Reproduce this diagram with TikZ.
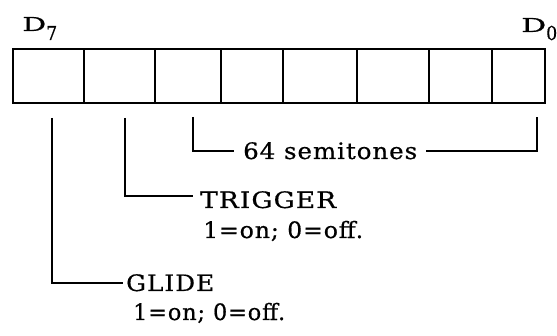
\documentclass[tikz,border=0pt]{standalone}
\usepackage{fontspec}
\usepackage{graphicx}
\newfontfamily\labelfont{DejaVu Serif}[LetterSpace=4, FakeBold=0.6]
% label text set to a given width and capital height
\newcommand\spread[3]{\resizebox{#1}{#2}{\raisebox{0pt}[\fontcharht\font`E][0pt]{#3}}}
\begin{document}
\begin{tikzpicture}[x=1pt,y=-1pt,
  cell/.style={draw, line width=2.8pt, inner sep=0pt, outer sep=0pt,
    minimum height=54pt, anchor=north west},
  lbl/.style={inner ysep=0pt, inner xsep=0pt, font=\labelfont\fontsize{20}{24}\selectfont,
    text height=16pt, text depth=0pt, anchor=base west},
  rule/.style={line width=2.4pt}]
\useasboundingbox (0,0) rectangle (557,336);

% the eight bit cells, D7 on the left, D0 on the right
\foreach \n/\a/\b in {7/13/84,6/84/155,5/155/221,4/221/283,3/283/357,2/357/429,1/429/492,0/492/545}{
  \pgfmathsetmacro\w{\b-\a}
  \node[cell, minimum width=\w pt] (b\n) at (\a,49) {};
}

% bit numbers
\node[lbl] (d7) at (22,31)
  {\spread{24pt}{14pt}{D}\raisebox{-9pt}{\spread{11pt}{14pt}{7}}};
\node[lbl] (d0) at (521,32)
  {\spread{25pt}{14pt}{D}\raisebox{-8pt}{\spread{11pt}{14pt}{0}}};

% pitch field
\coordinate (semL) at (193,117);
\coordinate (semR) at (537,117);
\node[lbl, inner xsep=9pt] (semi) at (234,159) {\spread{174pt}{16.5pt}{64 semitones}};
\draw[rule] (semL) |- (semi.west);
\draw[rule] (semi.east) -| (semR);

% trigger bit
\coordinate (trigV) at (125,118);
\node[lbl, inner xsep=7pt] (trig) at (193,208) {\spread{136pt}{16.5pt}{TRIGGER}};
\node[lbl] (trigval) at (203,238) {\spread{160pt}{16.5pt}{1=on; 0=off.}};
\draw[rule] (trigV) |- ([yshift=4pt]trig.west);

% glide bit
\coordinate (glideV) at (52,118);
\node[lbl, inner xsep=3pt] (glide) at (123,291) {\spread{88pt}{16.5pt}{GLIDE}};
\node[lbl] (glideval) at (133,320) {\spread{152pt}{16.5pt}{1=on; 0=off.}};
\draw[rule] (glideV) |- (glide.west);
\end{tikzpicture}
\end{document}
